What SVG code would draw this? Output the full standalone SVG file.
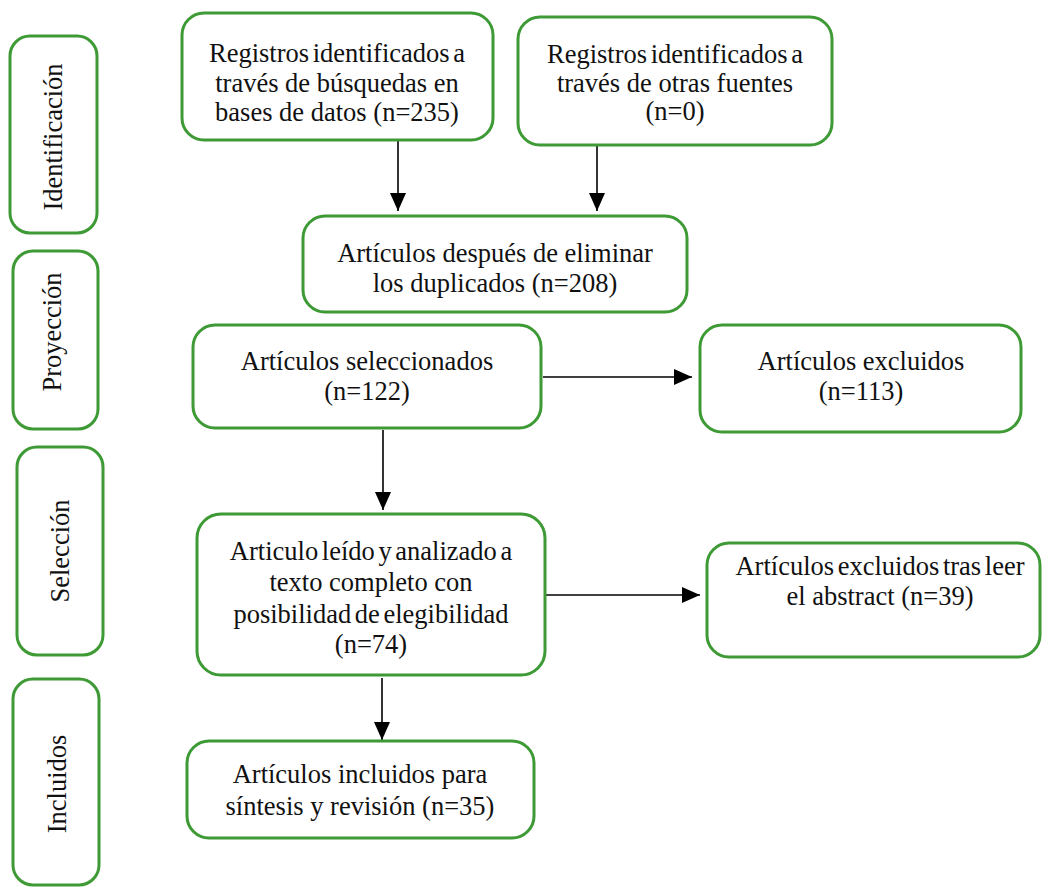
<svg xmlns="http://www.w3.org/2000/svg" width="1043" height="887" viewBox="0 0 1043 887">
<defs>
<style>
.box{fill:#ffffff;stroke:#3d9a35;stroke-width:3}
.t{font-family:"Liberation Serif","Times New Roman",serif;font-size:26.5px;fill:#111;text-anchor:middle}
.c{stroke:#000;stroke-width:1.6;fill:none;marker-end:url(#ah)}
</style>
<marker id="ah" viewBox="0 0 18 16" markerWidth="18" markerHeight="16" refX="18" refY="8" orient="auto" markerUnits="userSpaceOnUse">
<path d="M0,0 L18,8 L0,16 Z" fill="#000"/>
</marker>
</defs>
<rect width="1043" height="887" fill="#fff"/>

<g id="connectors">
<line class="c" x1="398" y1="141" x2="398" y2="211"/>
<line class="c" x1="597" y1="145" x2="597" y2="211"/>
<line class="c" x1="383" y1="430" x2="383" y2="510"/>
<line class="c" x1="543" y1="377" x2="692" y2="377"/>
<line class="c" x1="546" y1="595" x2="700" y2="595"/>
<line class="c" x1="382" y1="678" x2="382" y2="740"/>
</g>

<g id="lbl-identificacion">
<rect class="box" x="10" y="36" width="87" height="197" rx="20"/>
<text class="t" transform="translate(62,137) rotate(-90)">Identificación</text>
</g>
<g id="lbl-proyeccion">
<rect class="box" x="13" y="251" width="85" height="178" rx="20"/>
<text class="t" transform="translate(61,332) rotate(-90)">Proyección</text>
</g>
<g id="lbl-seleccion">
<rect class="box" x="17" y="447" width="86" height="208" rx="20"/>
<text class="t" transform="translate(69,551) rotate(-90)">Selección</text>
</g>
<g id="lbl-incluidos">
<rect class="box" x="13" y="679" width="86" height="206" rx="20"/>
<text class="t" transform="translate(66,784) rotate(-90)">Incluidos</text>
</g>

<g id="n-busquedas">
<rect class="box" x="182" y="13" width="311" height="127" rx="22"/>
<text class="t" x="337" y="62" word-spacing="-3">Registros identificados a</text>
<text class="t" x="337" y="92">través de búsquedas en</text>
<text class="t" x="337" y="121">bases de datos (n=235)</text>
</g>
<g id="n-otras">
<rect class="box" x="518" y="17" width="314" height="128" rx="22"/>
<text class="t" x="675" y="63" word-spacing="-3">Registros identificados a</text>
<text class="t" x="675" y="92">través de otras fuentes</text>
<text class="t" x="675" y="120">(n=0)</text>
</g>
<g id="n-duplicados">
<rect class="box" x="303" y="216" width="384" height="96" rx="22"/>
<text class="t" x="495" y="262">Artículos después de eliminar</text>
<text class="t" x="495" y="292">los duplicados (n=208)</text>
</g>
<g id="n-seleccionados">
<rect class="box" x="193" y="325" width="348" height="103" rx="22"/>
<text class="t" x="367" y="370">Artículos seleccionados</text>
<text class="t" x="367" y="400">(n=122)</text>
</g>
<g id="n-excluidos">
<rect class="box" x="700" y="325" width="321" height="107" rx="22"/>
<text class="t" x="861" y="370">Artículos excluidos</text>
<text class="t" x="861" y="400">(n=113)</text>
</g>
<g id="n-leido">
<rect class="box" x="197" y="514" width="348" height="161" rx="24"/>
<text class="t" x="371" y="560" word-spacing="-3">Articulo leído y analizado a</text>
<text class="t" x="371" y="591">texto completo con</text>
<text class="t" x="371" y="623" word-spacing="-3">posibilidad de elegibilidad</text>
<text class="t" x="371" y="653">(n=74)</text>
</g>
<g id="n-excluidos-abstract">
<rect class="box" x="707" y="543" width="333" height="114" rx="22"/>
<text class="t" x="880" y="575" word-spacing="-3">Artículos excluidos tras leer</text>
<text class="t" x="880" y="605">el abstract (n=39)</text>
</g>
<g id="n-incluidos">
<rect class="box" x="187" y="741" width="347" height="97" rx="22"/>
<text class="t" x="360" y="783">Artículos incluidos para</text>
<text class="t" x="360" y="815">síntesis y revisión (n=35)</text>
</g>
</svg>
